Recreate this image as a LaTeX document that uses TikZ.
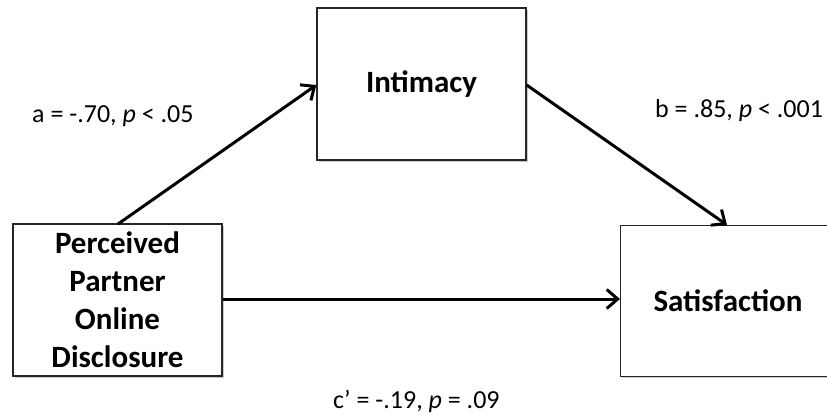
\documentclass[tikz,border=0pt]{standalone}
\usepackage{fontspec}
\setmainfont{Carlito}
\usetikzlibrary{arrows.meta,shadows}

\begin{document}
\begin{tikzpicture}[x=1pt,y=-1pt,
  varbox/.style={draw=black!85, line width=1.3pt, fill=white,
    drop shadow={shadow xshift=1.6pt, shadow yshift=-1.6pt, opacity=0.35, fill=black!60},
    font=\fontsize{31}{38}\selectfont\bfseries, align=center, inner sep=0pt},
  path/.style={line width=3pt, -{Straight Barb[length=11pt,width=19pt,line width=3pt]}},
  coef/.style={font=\fontsize{26}{30}\selectfont, inner sep=0pt}]
  \useasboundingbox (0,0) rectangle (827,415);
  \clip (0,0) rectangle (827,415);

  % variables
  \node[varbox, minimum width=209pt, minimum height=152pt] (med) at (421.5,84) {Intimacy};
  \node[varbox, minimum width=224pt, minimum height=151pt, anchor=north west] (dv) at (620,225) {};
  \node[font=\fontsize{31}{38}\selectfont\bfseries] (dvlab) at (728,301) {Satisfaction};
  \node[varbox, minimum width=209pt, minimum height=152pt, text width=209pt] (iv) at (117.5,300) {Perceived\\Partner\\Online\\Disclosure};

  % paths
  \draw[path] (118,224) coordinate (ivtop) -- (med.west |- 0,85);
  \draw[path] (med.east |- 0,85) -- (727,225) coordinate (dvtop);
  \draw[path] (iv.east |- 0,299) -- (dv.west |- 0,299);

  % coefficients
  \node[coef, anchor=west] (alab) at (32,116) {a = -.70, \textit{p} < .05};
  \node[coef, anchor=west] (blab) at (655,111) {b = .85, \textit{p} < .001};
  \node[coef, anchor=west] (clab) at (333,401) {c’ = -.19, \textit{p} = .09};
\end{tikzpicture}
\end{document}
